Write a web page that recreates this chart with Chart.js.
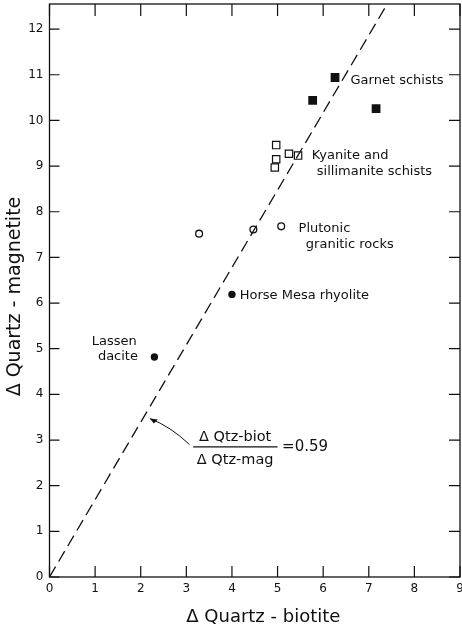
<!DOCTYPE html>
<html>
<head>
<meta charset="utf-8">
<script src="https://cdn.jsdelivr.net/npm/chart.js@4.4.1/dist/chart.umd.min.js"></script>
<style>
  html, body { margin: 0; padding: 0; background: #fff; }
  #wrap { width: 462px; height: 628px; position: relative; }
</style>
</head>
<body>
<div id="wrap"><canvas id="isoChart"></canvas></div>
<script>
// Δ quartz-biotite (x) and Δ quartz-magnetite (y) by rock group
const garnetX = [6.26, 5.77, 7.16];
const garnetY = [10.94, 10.44, 10.26];
const kyaniteX = [4.97, 4.97, 4.94, 5.25, 5.45];
const kyaniteY = [9.46, 9.15, 8.97, 9.27, 9.23];
const plutonicX = [3.28, 4.47, 5.08];
const plutonicY = [7.52, 7.61, 7.68];
const horseMesaX = [4.0];
const horseMesaY = [6.19];
const lassenX = [2.3];
const lassenY = [4.82];

// Δ Qtz-biot / Δ Qtz-mag ratio for the reference line
const slopeRatio = 0.59;
const lineY = [0, 13];

const xTicks = [0, 1, 2, 3, 4, 5, 6, 7, 8, 9];
const yTicks = [0, 1, 2, 3, 4, 5, 6, 7, 8, 9, 10, 11, 12];

const groupLabels = {
  garnet: ["Garnet schists"],
  kyanite: ["Kyanite and", "sillimanite schists"],
  plutonic: ["Plutonic", "granitic rocks"],
  horseMesa: ["Horse Mesa rhyolite"],
  lassen: ["Lassen", "dacite"],
};

const FONT = '"DejaVu Sans", Verdana, sans-serif';
const INK = "#111";

function toPoints(xs, ys) {
  return xs.map((x, i) => ({ x: x, y: ys[i] }));
}

// frame with inward ticks on all four sides, plus text annotations
const framePlugin = {
  id: "frame",
  afterDraw(chart) {
    const ctx = chart.ctx;
    const xs = chart.scales.x;
    const ys = chart.scales.y;
    const a = chart.chartArea;
    ctx.save();
    ctx.strokeStyle = INK;
    ctx.lineWidth = 1.3;
    ctx.strokeRect(a.left, a.top, a.right - a.left, a.bottom - a.top);

    ctx.lineWidth = 1.2;
    ctx.beginPath();
    xTicks.forEach((v) => {
      const px = xs.getPixelForValue(v);
      ctx.moveTo(px, a.bottom);
      ctx.lineTo(px, a.bottom - 11);
      ctx.moveTo(px, a.top);
      ctx.lineTo(px, a.top + 12);
    });
    yTicks.forEach((v) => {
      const py = ys.getPixelForValue(v);
      ctx.moveTo(a.left, py);
      ctx.lineTo(a.left + 10, py);
      ctx.moveTo(a.right, py);
      ctx.lineTo(a.right - 11, py);
    });
    ctx.stroke();

    // group labels
    ctx.fillStyle = INK;
    ctx.font = "13px " + FONT;
    ctx.textBaseline = "middle";
    const px = (v) => xs.getPixelForValue(v);
    const py = (v) => ys.getPixelForValue(v);
    ctx.textAlign = "left";
    ctx.fillText(groupLabels.garnet[0], px(6.6), py(10.88));
    ctx.fillText(groupLabels.kyanite[0], px(5.75), py(9.23));
    ctx.fillText(groupLabels.kyanite[1], px(5.86), py(8.88));
    ctx.fillText(groupLabels.plutonic[0], px(5.46), py(7.62));
    ctx.fillText(groupLabels.plutonic[1], px(5.62), py(7.29));
    ctx.fillText(groupLabels.horseMesa[0], px(4.17), py(6.16));
    ctx.textAlign = "center";
    ctx.fillText(groupLabels.lassen[0], px(1.42), py(5.15));
    ctx.fillText(groupLabels.lassen[1], px(1.50), py(4.82));

    // slope ratio fraction
    ctx.font = "14.5px " + FONT;
    ctx.fillText("\u0394 Qtz-biot", px(4.07), py(3.06));
    ctx.fillText("\u0394 Qtz-mag", px(4.07), py(2.56));
    ctx.beginPath();
    ctx.lineWidth = 1.1;
    ctx.moveTo(px(3.15), py(2.85));
    ctx.lineTo(px(5.0), py(2.85));
    ctx.stroke();
    ctx.textAlign = "left";
    ctx.font = "15px " + FONT;
    ctx.fillText("=0.59", px(5.1), py(2.84));

    // pointer from the fraction to the dashed line
    const sx = px(3.07), sy = py(2.9);
    const ex = px(2.2), ey = py(3.47);
    ctx.beginPath();
    ctx.lineWidth = 1;
    ctx.moveTo(sx, sy);
    ctx.quadraticCurveTo(px(2.65), py(3.3), ex, ey);
    ctx.stroke();
    ctx.beginPath();
    ctx.moveTo(ex, ey);
    ctx.lineTo(ex + 8, ey + 1);
    ctx.lineTo(ex + 4, ey + 5);
    ctx.closePath();
    ctx.fill();
    ctx.restore();
  },
};

const ctx = document.getElementById("isoChart").getContext("2d");

new Chart(ctx, {
  type: "scatter",
  data: {
    datasets: [
      {
        type: "line",
        label: "ratio line",
        data: lineY.map((y) => ({ x: y * slopeRatio, y: y })),
        borderColor: INK,
        borderWidth: 1.3,
        borderDash: [12, 6],
        pointRadius: 0,
        fill: false,
      },
      {
        label: "Garnet schists",
        data: toPoints(garnetX, garnetY),
        pointStyle: "rect",
        pointRadius: 6.2,
        backgroundColor: INK,
        borderColor: INK,
        borderWidth: 0,
      },
      {
        label: "Kyanite and sillimanite schists",
        data: toPoints(kyaniteX, kyaniteY),
        pointStyle: "rect",
        pointRadius: 5.2,
        backgroundColor: "#fff",
        borderColor: INK,
        borderWidth: 1.2,
      },
      {
        label: "Plutonic granitic rocks",
        data: toPoints(plutonicX, plutonicY),
        pointStyle: "circle",
        pointRadius: 3.4,
        backgroundColor: "#fff",
        borderColor: INK,
        borderWidth: 1.3,
      },
      {
        label: "Horse Mesa rhyolite",
        data: toPoints(horseMesaX, horseMesaY),
        pointStyle: "circle",
        pointRadius: 3.7,
        backgroundColor: INK,
        borderColor: INK,
        borderWidth: 0,
      },
      {
        label: "Lassen dacite",
        data: toPoints(lassenX, lassenY),
        pointStyle: "circle",
        pointRadius: 3.7,
        backgroundColor: INK,
        borderColor: INK,
        borderWidth: 0,
      },
    ],
  },
  options: {
    responsive: true,
    maintainAspectRatio: false,
    animation: false,
    layout: { autoPadding: false, padding: { top: 4, right: 2, left: 0, bottom: 0 } },
    plugins: {
      legend: { display: false },
      tooltip: { enabled: false },
    },
    scales: {
      x: {
        type: "linear",
        min: 0,
        max: 9,
        grid: { display: false, drawTicks: false },
        border: { display: false },
        afterFit(scale) {
          scale.height = 51;
          scale.paddingLeft = 0;
          scale.paddingRight = 0;
        },
        afterBuildTicks(scale) {
          scale.ticks = xTicks.map((v) => ({ value: v }));
        },
        ticks: {
          padding: 5,
          color: INK,
          font: { family: FONT, size: 12 },
          maxRotation: 0,
        },
        title: {
          display: true,
          text: "   \u0394 Quartz - biotite",
          color: INK,
          font: { family: FONT, size: 18 },
          padding: { top: 0, bottom: 0 },
        },
      },
      y: {
        type: "linear",
        min: 0,
        max: 12.55,
        grid: { display: false, drawTicks: false },
        border: { display: false },
        afterFit(scale) {
          scale.width = 49.5;
          scale.paddingTop = 0;
          scale.paddingBottom = 0;
        },
        afterBuildTicks(scale) {
          scale.ticks = yTicks.map((v) => ({ value: v }));
        },
        ticks: {
          padding: 6,
          color: INK,
          font: { family: FONT, size: 12 },
        },
        title: {
          display: true,
          text: "\u0394 Quartz - magnetite  ",
          color: INK,
          font: { family: FONT, size: 19 },
          padding: { top: 4, bottom: 0 },
        },
      },
    },
  },
  plugins: [framePlugin],
});
</script>
</body>
</html>
